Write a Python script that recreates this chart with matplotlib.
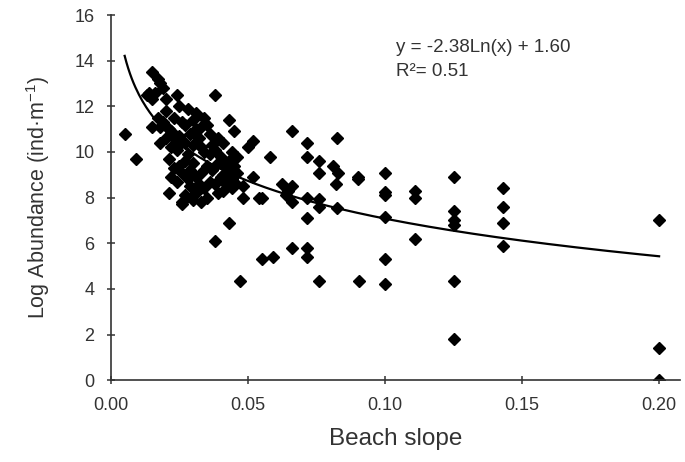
import numpy as np
import matplotlib
matplotlib.use("Agg")
import matplotlib.pyplot as plt

plt.rcParams["font.family"] = ["Liberation Sans", "DejaVu Sans"]
plt.rcParams["mathtext.fontset"] = "custom"
plt.rcParams["mathtext.rm"] = "Liberation Sans"
plt.rcParams["mathtext.it"] = "Liberation Sans:italic"

# beach slope vs log abundance
slope = [
    0.005, 0.009,
    0.015, 0.017, 0.018, 0.019, 0.014, 0.013, 0.016, 0.024, 0.038, 0.020, 0.015, 0.025,
    0.020, 0.028, 0.031, 0.034, 0.043, 0.026, 0.017, 0.015, 0.045, 0.022, 0.031, 0.025,
    0.039, 0.018, 0.050, 0.021, 0.033, 0.024, 0.028, 0.036, 0.039, 0.042, 0.023, 0.026,
    0.033, 0.046, 0.022, 0.036, 0.042, 0.029, 0.048, 0.031, 0.021, 0.039, 0.026, 0.026,
    0.035, 0.044,
    0.019, 0.021, 0.023, 0.027, 0.029, 0.030, 0.032, 0.034, 0.035, 0.037, 0.040, 0.041,
    0.043, 0.044, 0.045, 0.046, 0.044, 0.040, 0.037, 0.030, 0.027, 0.025, 0.024, 0.028,
    0.032, 0.034, 0.030, 0.027, 0.022, 0.020, 0.018, 0.023, 0.027, 0.030, 0.033, 0.036,
    0.038, 0.041, 0.043, 0.045, 0.041, 0.038, 0.033, 0.029, 0.031, 0.025, 0.035,
    0.052, 0.058, 0.052, 0.048, 0.054, 0.0625, 0.066, 0.064, 0.066, 0.043, 0.066, 0.0825,
    0.0715, 0.0715, 0.076, 0.081, 0.083, 0.076, 0.090, 0.090, 0.082, 0.0645, 0.0715, 0.076,
    0.076, 0.0825, 0.0715, 0.055, 0.038, 0.055, 0.059, 0.047, 0.066, 0.0715, 0.0715, 0.076,
    0.0905, 0.100, 0.100, 0.100, 0.100, 0.100, 0.100, 0.111, 0.111, 0.111, 0.125, 0.125,
    0.125, 0.125, 0.125, 0.125, 0.143, 0.143, 0.143, 0.143, 0.200, 0.200, 0.200,
]
log_abund = [
    10.8, 9.7,
    13.5, 13.2, 13.0, 12.8, 12.6, 12.5, 12.6, 12.5, 12.5, 12.3, 12.3, 12.0,
    11.8, 11.9, 11.7, 11.5, 11.4, 11.3, 11.5, 11.1, 10.9, 10.9, 11.0, 10.7,
    10.6, 10.4, 10.2, 9.7, 10.2, 10.1, 9.9, 9.9, 9.5, 9.3, 9.3, 9.1,
    9.1, 9.1, 8.9, 8.7, 8.6, 8.5, 8.5, 8.2, 8.2, 8.2, 7.8, 7.7,
    8.0, 8.4,
    11.3, 11.0, 10.6, 10.4, 10.8, 10.3, 10.6, 10.0, 9.4, 10.3, 9.8, 9.0,
    9.6, 10.0, 9.4, 9.8, 8.8, 8.9, 9.2, 9.5, 9.6, 9.4, 8.7, 8.8,
    8.6, 8.4, 7.9, 8.1, 10.2, 10.6, 11.1, 11.5, 11.2, 11.4, 11.1, 10.8,
    10.1, 10.4, 9.2, 8.7, 8.3, 8.6, 7.8, 9.2, 8.9, 10.3, 11.2,
    10.5, 9.8, 8.9, 8.0, 8.0, 8.6, 8.5, 8.1, 7.8, 6.9, 10.9, 10.6,
    10.4, 9.8, 9.6, 9.4, 9.1, 9.1, 8.9, 8.8, 8.6, 8.3, 8.0, 7.96,
    7.6, 7.55, 7.1, 8.0, 6.1, 5.3, 5.4, 4.35, 5.8, 5.8, 5.4, 4.35,
    4.35, 5.3, 4.2, 9.1, 8.25, 8.1, 7.15, 8.3, 8.0, 6.2, 8.9, 7.4,
    7.0, 6.8, 4.35, 1.8, 8.4, 7.6, 6.9, 5.9, 7.0, 1.4, 0.0,
]

# trendline from the printed equation y = a ln(x) + b
fit_a, fit_b = -2.38, 1.60
fit_range = (0.005, 0.200)
x_ticks = [0.00, 0.05, 0.10, 0.15, 0.20]
y_ticks = [0, 2, 4, 6, 8, 10, 12, 14, 16]

fig = plt.figure(figsize=(6.85, 4.62), dpi=100)
ax = fig.add_axes([0.162, 0.177, 0.831, 0.7905])

ax.plot(slope, log_abund, linestyle="none", marker="D", markersize=5.8,
        color="black", zorder=3)

xf = np.linspace(fit_range[0], fit_range[1], 300)
ax.plot(xf, fit_a * np.log(xf) + fit_b, color="black", linewidth=1.6, zorder=2)

ax.set_xlim(0, 0.2077)
ax.set_ylim(0, 16)
ax.set_xticks(x_ticks)
ax.set_xticklabels([f"{v:.2f}" for v in x_ticks])
ax.set_yticks(y_ticks)

for side in ["top", "right"]:
    ax.spines[side].set_visible(False)
for side in ["left", "bottom"]:
    ax.spines[side].set_color("#333333")
    ax.spines[side].set_linewidth(1.2)
ax.spines["bottom"].set_zorder(4)
ax.tick_params(direction="inout", length=6, width=1.1, colors="#333333",
               labelsize=13, labelcolor="#333333")
ax.tick_params(axis="x", pad=9)
ax.tick_params(axis="y", pad=9)

ax.set_xlabel("Beach slope", fontsize=17.5, color="#333333", labelpad=10)
ax.set_ylabel("Log Abundance (ind·m$^{-1}$)", fontsize=15.5, color="#333333", labelpad=16)

ax.text(0.5, 0.91, "y = -2.38Ln(x) + 1.60", transform=ax.transAxes,
        fontsize=13.5, color="#333333", va="center")
ax.text(0.5, 0.845, "R²= 0.51", transform=ax.transAxes,
        fontsize=13.5, color="#333333", va="center")

fig.savefig("out.png", dpi=100)
